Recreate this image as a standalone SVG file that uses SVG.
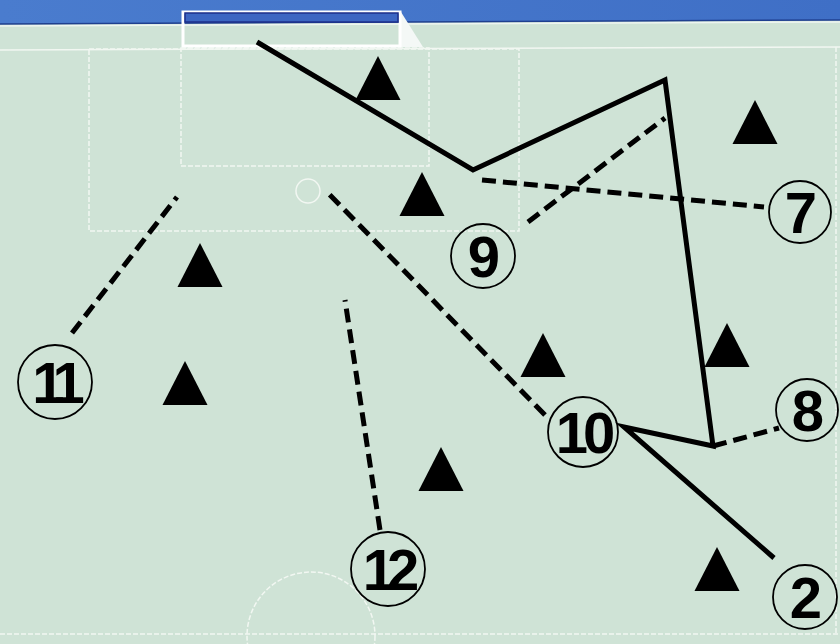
<svg xmlns="http://www.w3.org/2000/svg" width="840" height="644" viewBox="0 0 840 644">
<style>
.pitch{fill:none;stroke:#f2f7f2;stroke-width:1.5;stroke-dasharray:5 2}
.run{fill:none;stroke:#000;stroke-width:5;stroke-linejoin:miter;stroke-linecap:butt}
.pass{fill:none;stroke:#000;stroke-width:5;stroke-dasharray:14 7}
.ring{fill:none;stroke:#000;stroke-width:1.8}
.num{font-family:"Liberation Sans",Arial,sans-serif;font-weight:bold;font-size:58px;fill:#000;text-anchor:middle}
.tri{fill:#000}
</style>
<defs>
<path id="cone" d="M0,0 L22.5,44 L-22.5,44 Z"/>
<linearGradient id="band" x1="0" y1="0" x2="1" y2="0">
<stop offset="0" stop-color="#4a7cce"/>
<stop offset="1" stop-color="#3f6fc6"/>
</linearGradient>
</defs>
<rect width="840" height="644" fill="#cfe3d6"/>
<polygon points="0,0 840,0 840,20 0,24" fill="url(#band)"/>
<line x1="0" y1="24" x2="840" y2="20" stroke="#1f3f8f" stroke-width="1.5"/>
<line x1="0" y1="26" x2="840" y2="22" stroke="#eef5f0" stroke-width="1.5"/>
<g id="field">
<line x1="0" y1="50" x2="840" y2="47" stroke="#f2f7f2" stroke-width="1.5"/>
<rect class="pitch" x="181" y="48" width="248" height="118"/>
<rect class="pitch" x="89" y="49" width="430" height="182"/>
<circle class="pitch" cx="308" cy="191" r="12" style="stroke-dasharray:none"/>
<line class="pitch" x1="0" y1="634" x2="840" y2="634"/>
<circle class="pitch" cx="311" cy="636" r="64"/>
<line class="pitch" x1="836" y1="47" x2="836" y2="634"/>
</g>
<g id="goal">
<polygon points="401,12 423,47 401,47" fill="#f4f8f6"/>
<rect x="183" y="12" width="217" height="34" fill="none" stroke="#ffffff" stroke-width="3"/>
<rect x="185" y="13" width="213" height="9" fill="#3c66c2" stroke="#1c2f8a" stroke-width="1.5"/>
</g>
<g id="connectors">
<polyline class="run" points="257,42 473,170 665,80 713,446 624,427 774,558"/>
<line class="pass" x1="482" y1="180" x2="764" y2="207"/>
<line class="pass" x1="528" y1="222" x2="665" y2="118"/>
<line class="pass" x1="713" y1="446" x2="779" y2="428"/>
<line class="pass" x1="72" y1="333" x2="177" y2="197"/>
<line class="pass" x1="545" y1="415" x2="328" y2="193"/>
<line class="pass" x1="380" y1="530" x2="345" y2="300"/>
</g>
<g id="cone1"><use href="#cone" x="378" y="56" class="tri"/></g>
<g id="cone2"><use href="#cone" x="422" y="172" class="tri"/></g>
<g id="cone3"><use href="#cone" x="755" y="100" class="tri"/></g>
<g id="cone4"><use href="#cone" x="200" y="243" class="tri"/></g>
<g id="cone5"><use href="#cone" x="185" y="361" class="tri"/></g>
<g id="cone6"><use href="#cone" x="543" y="333" class="tri"/></g>
<g id="cone7"><use href="#cone" x="727" y="323" class="tri"/></g>
<g id="cone8"><use href="#cone" x="441" y="447" class="tri"/></g>
<g id="cone9"><use href="#cone" x="717" y="547" class="tri"/></g>
<g id="player7"><circle class="ring" cx="800" cy="212" r="31"/><text class="num" x="801" y="233">7</text></g>
<g id="player9"><circle class="ring" cx="483" cy="256" r="32"/><text class="num" x="484" y="277">9</text></g>
<g id="player10"><circle class="ring" cx="583" cy="432" r="35"/><text class="num" x="583" y="453" letter-spacing="-5">10</text></g>
<g id="player8"><circle class="ring" cx="807" cy="410" r="31"/><text class="num" x="808" y="431">8</text></g>
<g id="player2"><circle class="ring" cx="805" cy="597" r="32"/><text class="num" x="806" y="618">2</text></g>
<g id="player11"><circle class="ring" cx="55" cy="382" r="37"/><text class="num" x="54" y="403" letter-spacing="-9">11</text></g>
<g id="player12"><circle class="ring" cx="388" cy="569" r="37"/><text class="num" x="387" y="590" letter-spacing="-8">12</text></g>
</svg>
